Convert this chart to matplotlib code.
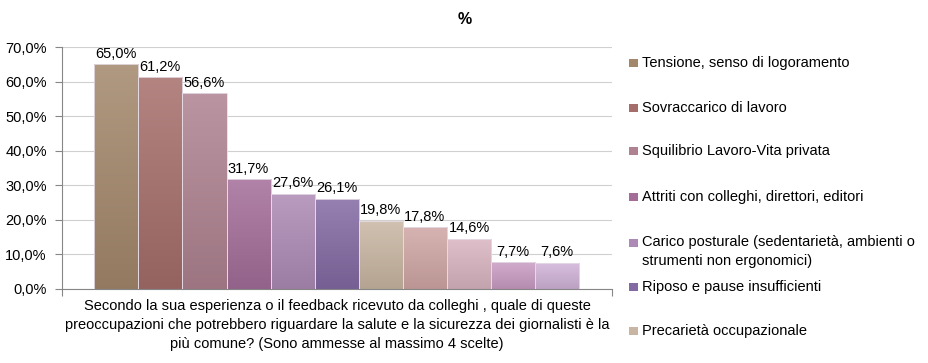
import numpy as np
import matplotlib.pyplot as plt
from matplotlib.colors import to_rgb
from matplotlib.patches import Rectangle

# dati
valori = [65.0, 61.2, 56.6, 31.7, 27.6, 26.1, 19.8, 17.8, 14.6, 7.7, 7.6]
voci_legenda = [
    'Tensione, senso di logoramento',
    'Sovraccarico di lavoro',
    'Squilibrio Lavoro-Vita privata',
    'Attriti con colleghi, direttori, editori',
    'Carico posturale (sedentarietà, ambienti o\nstrumenti non ergonomici)',
    'Riposo e pause insufficienti',
    'Precarietà occupazionale',
]
colori = ['#a3876b', '#a56e6a', '#ae8290', '#a46d99', '#ad8ab5', '#836aa3',
          '#c9b6a2', '#cfa6a4', '#d9b5c1', '#c99cc3', '#d1b3d9']
titolo = '%'
domanda = ('Secondo la sua esperienza o il feedback ricevuto da colleghi , quale di queste\n'
           'preoccupazioni che potrebbero riguardare la salute e la sicurezza dei giornalisti è la\n'
           'più comune? (Sono ammesse al massimo 4 scelte)')

plt.rcParams['font.family'] = ['Liberation Sans', 'DejaVu Sans']
FS = 10.5

fig = plt.figure(figsize=(9.29, 3.63), dpi=100)
ax = fig.add_axes([62 / 929, 1 - 289 / 363, 550 / 929, 242 / 363])

x = np.arange(len(valori))
barre = ax.bar(x, valori, width=1.0, color=colori, linewidth=0, zorder=2)

# sfumatura verticale dentro ogni barra
for b, c in zip(barre, colori):
    rgb = np.array(to_rgb(c))
    alto = rgb + (1 - rgb) * 0.15
    basso = rgb * 0.9
    t = np.linspace(0, 1, 64)[:, None]
    grad = (basso[None, :] * (1 - t) + alto[None, :] * t)[:, None, :]
    x0, y0 = b.get_x(), b.get_y()
    im = ax.imshow(grad, extent=[x0, x0 + b.get_width(), y0, y0 + b.get_height()],
                   origin='lower', aspect='auto', zorder=2.5)
    im.set_clip_path(b)
    b.set_facecolor('none')
    ax.add_patch(Rectangle((x0, y0), b.get_width(), b.get_height(), fill=False,
                           edgecolor='#e6dce6', linewidth=0.6, zorder=3))

for xi, v in zip(x, valori):
    ax.text(xi, v + 1.0, f'{v:.1f}%'.replace('.', ','), ha='center', va='bottom', fontsize=FS)

ax.set_xlim(-1.23, 11.24)
ax.set_ylim(0, 70)
ax.set_yticks(np.arange(0, 71, 10))
ax.set_yticklabels([f'{t:.1f}%'.replace('.', ',') for t in np.arange(0, 71, 10)], fontsize=FS)
ax.set_xticks([-1.23, 11.24])
ax.set_xticklabels(['', ''])
ax.tick_params(axis='both', color='#868686', length=5, width=0.8, pad=6)
ax.grid(axis='y', color='#d0d0d0', linewidth=0.8, zorder=0)
ax.set_axisbelow(True)
for s in ['top', 'right']:
    ax.spines[s].set_visible(False)
for s in ['left', 'bottom']:
    ax.spines[s].set_color('#868686')
    ax.spines[s].set_linewidth(0.8)

fig.text(337 / 929, 1 - 325 / 363, domanda, ha='center', va='center', fontsize=FS, linespacing=1.45)
fig.text(0.5, 1 - 20 / 363, titolo, ha='center', va='center', fontsize=FS + 1, fontweight='bold')

# legenda (troncata come nell'originale)
pos_y = [63, 108, 151, 197, 243, 287, 331]
for yy, lab, c in zip(pos_y, voci_legenda, colori):
    fig.patches.append(Rectangle((629 / 929, 1 - (yy + 4) / 363), 9 / 929, 8 / 363,
                                 transform=fig.transFigure, facecolor=c, edgecolor='none'))
    yc = yy + 8.5 * lab.count('\n')
    fig.text(642 / 929, 1 - yc / 363, lab, ha='left', va='center',
             fontsize=FS, linespacing=1.45)

fig.savefig('out.png', dpi=100)
